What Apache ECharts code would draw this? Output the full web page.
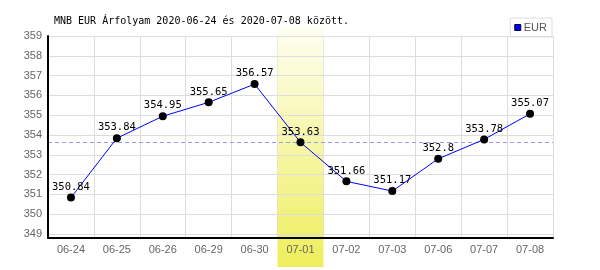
<!DOCTYPE html>
<html><head><meta charset="utf-8">
<script src="https://cdn.jsdelivr.net/npm/echarts@6/dist/echarts.min.js"></script>
<style>html,body{margin:0;padding:0;background:#fff}#c{width:600px;height:270px}</style>
</head><body><div id="c"></div>
<script>
const titleText = 'MNB EUR Árfolyam 2020-06-24 és 2020-07-08 között.';
const categories = ['06-24','06-25','06-26','06-29','06-30','07-01','07-02','07-03','07-06','07-07','07-08'];
const eurValues = [350.84,353.84,354.95,355.65,356.57,353.63,351.66,351.17,352.8,353.78,355.07];
const yTicks = [349,350,351,352,353,354,355,356,357,358,359];
const highlightCategory = ['07-01'];

const chart = echarts.init(document.getElementById('c'), null, {renderer:'canvas'});
chart.setOption({
  animation:false,
  backgroundColor:'#fff',
  title:{text:titleText,left:54,top:16,padding:0,
    textStyle:{fontFamily:'DejaVu Sans Mono',fontSize:10,fontWeight:'normal',color:'#000'}},
  legend:{data:['EUR'],right:48,top:18,orient:'vertical',icon:'rect',itemWidth:6,itemHeight:6,itemGap:0,
    padding:[4,5,4,4],backgroundColor:'#fff',borderColor:'#ddd',borderWidth:1,
    itemStyle:{color:'#0000ff',borderColor:'#000033',borderWidth:1},
    textStyle:{fontFamily:'Liberation Sans',fontSize:11,color:'#555',padding:[0,0,0,-2]}},
  grid:{left:48,right:47,top:36,bottom:32,containLabel:false},
  xAxis:[
    {type:'category',data:categories,boundaryGap:true,z:0,
     axisLine:{show:false},axisTick:{show:false},axisLabel:{show:false},
     splitLine:{show:true,lineStyle:{color:'#dddddd',width:1}}},
    {type:'category',data:categories,boundaryGap:true,position:'bottom',offset:0,z:5,
     axisLine:{show:true,lineStyle:{color:'#000',width:2}},axisTick:{show:false},
     axisLabel:{fontFamily:'Liberation Sans',fontSize:11,color:'#666',margin:6},
     splitLine:{show:false}}
  ],
  yAxis:{type:'value',min:348.8,max:359,z:5,
    axisLine:{show:true,lineStyle:{color:'#000',width:2}},
    axisTick:{show:false,customValues:yTicks},
    axisLabel:{customValues:yTicks,fontFamily:'Liberation Sans',fontSize:11,color:'#666',margin:6},
    splitLine:{show:true,lineStyle:{color:'#dddddd',width:1}}},
  series:[
    {type:'custom',xAxisIndex:0,z:1,silent:true,clip:false,
     data:highlightCategory.map(c=>[c,359]),
     renderItem:function(params,api){
       const p = api.coord([api.value(0),api.value(1)]);
       const w = api.size([1,0])[0];
       return {type:'rect',shape:{x:p[0]-w/2,y:27,width:w,height:240},
         style:{fill:new echarts.graphic.LinearGradient(0,0,0,1,[
           {offset:0,color:'#fefef2'},{offset:1,color:'#eeee5c'}])}};
     }},
    {name:'EUR',type:'line',xAxisIndex:1,z:6,data:eurValues,
     color:'#0000ff',
     lineStyle:{color:'#0000ff',width:1},itemStyle:{color:'#000'},
     symbol:'circle',symbolSize:8,
     label:{show:true,position:'top',distance:1,fontFamily:'DejaVu Sans Mono',fontSize:10.5,color:'#000'},
     markLine:{silent:true,symbol:'none',label:{show:false},
       lineStyle:{color:'#9999ee',type:[4,3],width:1},data:[{type:'average'}]}}
  ]
});
</script></body></html>
